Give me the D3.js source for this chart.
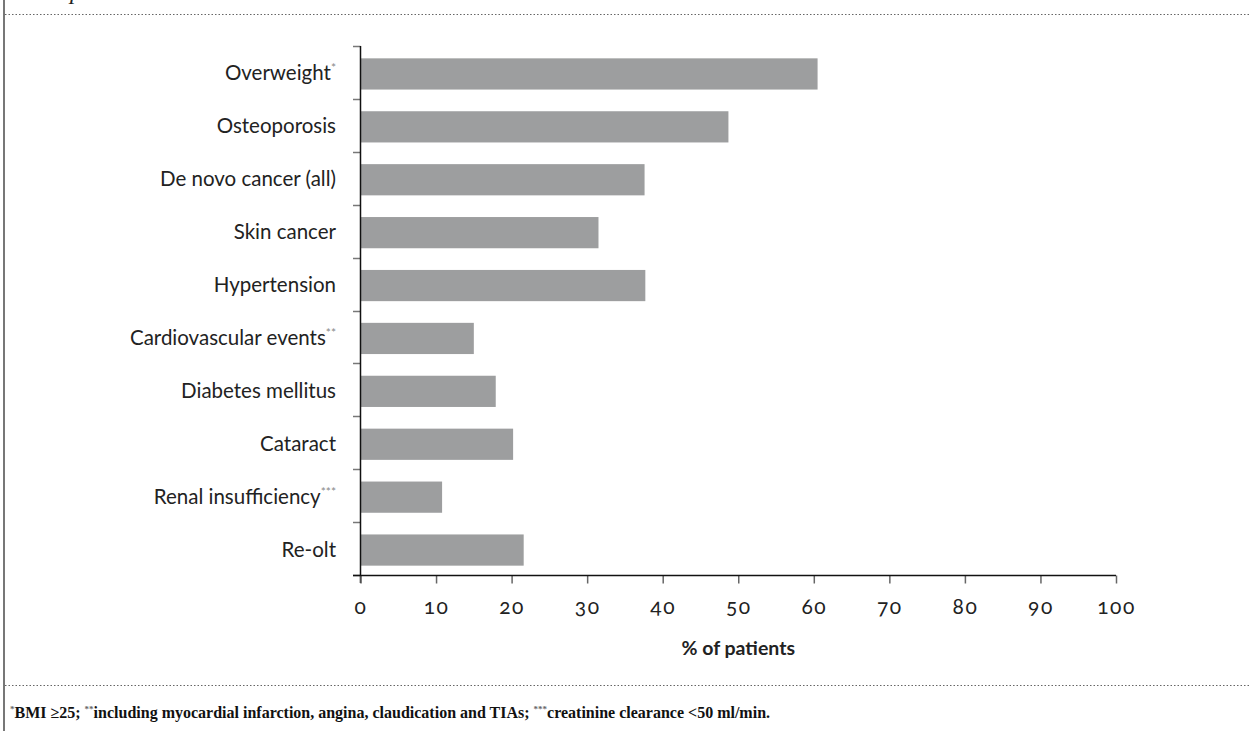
<!DOCTYPE html>
<html><head><meta charset="utf-8">
<script src="https://cdn.jsdelivr.net/npm/d3@7"></script>
<style>body{margin:0;background:#fff}svg{display:block}</style>
</head><body>
<svg id="c" width="1250" height="731"></svg>
<script>
const categories = ["Overweight","Osteoporosis","De novo cancer (all)","Skin cancer","Hypertension","Cardiovascular events","Diabetes mellitus","Cataract","Renal insufficiency","Re-olt"];
const superscripts = ["*","","","","","**","","","***",""];
const values = [60.5,48.7,37.6,31.5,37.7,15.0,17.9,20.2,10.8,21.6];
const xTicks = [0,10,20,30,40,50,60,70,80,90,100];
const xTitle = "% of patients";

(function(){
const svg = d3.select("#c");
const pL = 360.5, pR = 1116, pT = 46, pB = 575;
const sans = "Lato, Open Sans, sans-serif";
const x = d3.scaleLinear().domain([0,100]).range([pL,pR]);
const y = d3.scaleBand().domain(categories).range([pT,pB]).paddingInner(0.41).paddingOuter(0.205);

// frame
svg.append("line").attr("x1",4).attr("x2",4).attr("y1",0).attr("y2",731).attr("stroke","#777").attr("stroke-width",2);
svg.append("line").attr("x1",5).attr("x2",1250).attr("y1",14.5).attr("y2",14.5).attr("stroke","#666").attr("stroke-width",1).attr("stroke-dasharray","1.5,2");
svg.append("line").attr("x1",5).attr("x2",1250).attr("y1",685.5).attr("y2",685.5).attr("stroke","#666").attr("stroke-width",1).attr("stroke-dasharray","1.5,2");
svg.append("text").attr("x",70).attr("y",-1).attr("font-family","Liberation Serif").attr("font-style","italic").attr("font-size",24).attr("fill","#222").text("p");

// bars
svg.append("g").selectAll("rect").data(categories).join("rect")
  .attr("x",x(0)).attr("y",d=>y(d)+1.5).attr("height",y.bandwidth())
  .attr("width",(d,i)=>x(values[i])-x(0)).attr("fill","#9d9e9f");

// y axis
const yb = d3.scaleLinear().domain([0,categories.length]).range([pT,pB]);
const yg = svg.append("g");
yg.selectAll("line.t").data(d3.range(categories.length+1)).join("line")
  .attr("x1",353).attr("x2",pL).attr("y1",d=>Math.round(yb(d))+0.5).attr("y2",d=>Math.round(yb(d))+0.5)
  .attr("stroke","#777").attr("stroke-width",1.5);
yg.append("line").attr("x1",pL).attr("x2",pL).attr("y1",pT).attr("y2",pB+8).attr("stroke","#111").attr("stroke-width",1.5);
const lab = yg.selectAll("text").data(categories).join("text")
  .attr("x",336).attr("y",(d,i)=>y(d)+y.bandwidth()/2+8)
  .attr("text-anchor","end").attr("font-family",sans).attr("font-size",20.5).attr("fill","#222");
lab.append("tspan").text(d=>d);
lab.append("tspan").attr("dy",-8).attr("font-size",12).attr("fill","#888").text((d,i)=>superscripts[i]);

// x axis
const xAxis = d3.axisBottom(x).tickValues(xTicks).tickSize(8).tickFormat(d3.format("d"));
const xg = svg.append("g").attr("transform",`translate(0,${pB+0.5})`).call(xAxis);
xg.select(".domain").remove();
xg.append("line").attr("x1",353).attr("x2",pR).attr("y1",0).attr("y2",0).attr("stroke","#111").attr("stroke-width",1.5);
xg.selectAll(".tick line").attr("stroke","#666").attr("stroke-width",1.5);
xg.selectAll(".tick text").attr("dy",0).attr("y",38).attr("font-family",sans).attr("font-size",21)
  .attr("letter-spacing",1.5)
  .style("font-variant-numeric","oldstyle-nums").attr("fill","#222");
svg.append("text").attr("x",x(50)).attr("y",655).attr("text-anchor","middle")
  .attr("font-family",sans).attr("font-weight","bold").attr("font-size",19.5).attr("fill","#222").text(xTitle);

// footnote
const fn = svg.append("text").attr("x",10).attr("y",718).attr("font-family","Liberation Serif, serif").attr("font-weight","bold").attr("font-size",16).attr("fill","#111");
const parts = [["*",true],["BMI ≥25; ",false],["**",true],["including myocardial infarction, angina, claudication and TIAs; ",false],["***",true],["creatinine clearance <50 ml/min.",false]];
parts.forEach((p,i)=>{
  if(p[1]) fn.append("tspan").attr("dy",-6).attr("font-size",9).attr("fill","#666").text(p[0]);
  else fn.append("tspan").attr("dy",6).text(p[0]);
});
})();
</script>
</body></html>
